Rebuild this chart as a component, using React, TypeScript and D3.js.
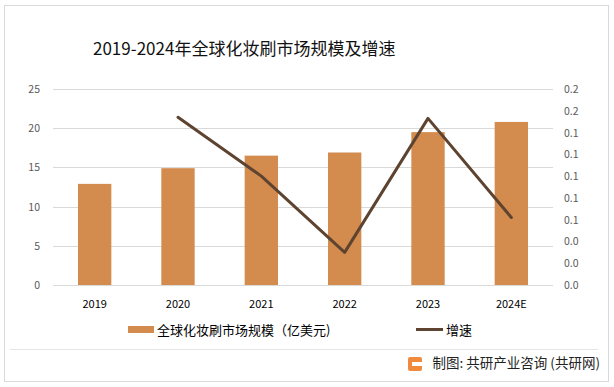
import { useEffect, useRef } from "react";
import * as d3 from "d3";

const years = ["2019", "2020", "2021", "2022", "2023", "2024E"];
const marketSize = [12.9, 14.9, 16.5, 16.9, 19.5, 20.8];
const growth = [null, 0.154, 0.1, 0.03, 0.153, 0.062];
const leftTicks = [0, 5, 10, 15, 20, 25];
const rightTicks = [0, 0.02, 0.04, 0.06, 0.08, 0.1, 0.12, 0.14, 0.16, 0.18];

const W = 614;
const H = 387;

function App() {
  const ref = useRef<SVGSVGElement>(null);

  useEffect(() => {
    const svg = d3.select(ref.current);
    svg.selectAll("*").remove();

    const font = "'Microsoft YaHei', 'Noto Sans CJK SC', sans-serif";
    const left = 53;
    const right = 553;
    const top = 89;
    const bottom = 285;

    // frame
    svg.append("rect")
      .attr("x", 4.5).attr("y", 5.5)
      .attr("width", 604).attr("height", 376)
      .attr("fill", "#fff").attr("stroke", "#d9d9d9");

    svg.append("text")
      .attr("x", 93).attr("y", 55)
      .style("font-family", font)
      .style("font-size", "17px")
      .attr("fill", "#111")
      .text("2019-2024年全球化妆刷市场规模及增速");

    const x = d3.scaleBand().domain(years).range([left, right]).paddingInner(0.6).paddingOuter(0.3);
    const y = d3.scaleLinear().domain([0, 25]).range([bottom, top]);
    const y2 = d3.scaleLinear().domain([0, 0.18]).range([bottom, top]);

    // gridlines
    svg.append("g").selectAll("line").data(leftTicks).join("line")
      .attr("x1", left).attr("x2", right)
      .attr("y1", (d) => Math.round(y(d)) + 0.5).attr("y2", (d) => Math.round(y(d)) + 0.5)
      .attr("stroke", "#d9d9d9");

    // left axis labels
    svg.append("g").selectAll("text").data(leftTicks).join("text")
      .attr("x", 40).attr("y", (d) => y(d) + 4)
      .attr("text-anchor", "end")
      .style("font-family", font).style("font-size", "10.5px")
      .attr("fill", "#595959")
      .text((d) => d);

    // right axis labels
    svg.append("g").selectAll("text").data(rightTicks).join("text")
      .attr("x", 564).attr("y", (d) => y2(d) + 4)
      .style("font-family", font).style("font-size", "10.5px")
      .attr("fill", "#595959")
      .text((d) => d3.format(".1f")(d));

    // bars
    svg.append("g").selectAll("rect").data(marketSize).join("rect")
      .attr("x", (d, i) => x(years[i])!)
      .attr("y", (d) => y(d))
      .attr("width", x.bandwidth())
      .attr("height", (d) => bottom - y(d))
      .attr("fill", "#d38b4e");

    // x labels
    svg.append("g").selectAll("text").data(years).join("text")
      .attr("x", (d) => x(d)! + x.bandwidth() / 2)
      .attr("y", 308)
      .attr("text-anchor", "middle")
      .style("font-family", font).style("font-size", "11px")
      .attr("fill", "#000")
      .text((d) => d);

    // growth line
    const pts = growth.map((g, i) => ({ g, year: years[i] })).filter((p) => p.g != null);
    const line = d3.line<{ g: number | null; year: string }>()
      .x((p) => x(p.year)! + x.bandwidth() / 2)
      .y((p) => y2(p.g as number));
    svg.append("path")
      .datum(pts)
      .attr("d", line)
      .attr("fill", "none")
      .attr("stroke", "#5e4430")
      .attr("stroke-width", 3)
      .attr("stroke-linejoin", "round")
      .attr("stroke-linecap", "round");

    // legend
    svg.append("rect").attr("x", 128).attr("y", 326).attr("width", 26).attr("height", 7).attr("fill", "#d38b4e");
    svg.append("text").attr("x", 157).attr("y", 335)
      .style("font-family", font).style("font-size", "13px").attr("fill", "#000")
      .text("全球化妆刷市场规模（亿美元)");
    svg.append("line").attr("x1", 416).attr("x2", 443).attr("y1", 329.5).attr("y2", 329.5)
      .attr("stroke", "#5e4430").attr("stroke-width", 3);
    svg.append("text").attr("x", 446).attr("y", 335)
      .style("font-family", font).style("font-size", "13px").attr("fill", "#000")
      .text("增速");

    // footer
    svg.append("line").attr("x1", 10).attr("x2", 598).attr("y1", 349.5).attr("y2", 349.5)
      .attr("stroke", "#e6e6e6");
    const icon = svg.append("g").attr("transform", "translate(408,357)");
    icon.append("rect").attr("width", 14).attr("height", 14).attr("rx", 2).attr("fill", "#f08a3c");
    icon.append("rect").attr("x", 4).attr("y", 5).attr("width", 10).attr("height", 4).attr("fill", "#fff");
    svg.append("text").attr("x", 600).attr("y", 368)
      .attr("text-anchor", "end")
      .style("font-family", font).style("font-size", "13.5px").attr("fill", "#222")
      .text("制图: 共研产业咨询 (共研网)");
  }, []);

  return (
    <div style={{ width: W, height: H, position: "absolute", left: 0, top: 0 }}>
      <svg ref={ref} width={W} height={H}></svg>
    </div>
  );
}

export default App;
